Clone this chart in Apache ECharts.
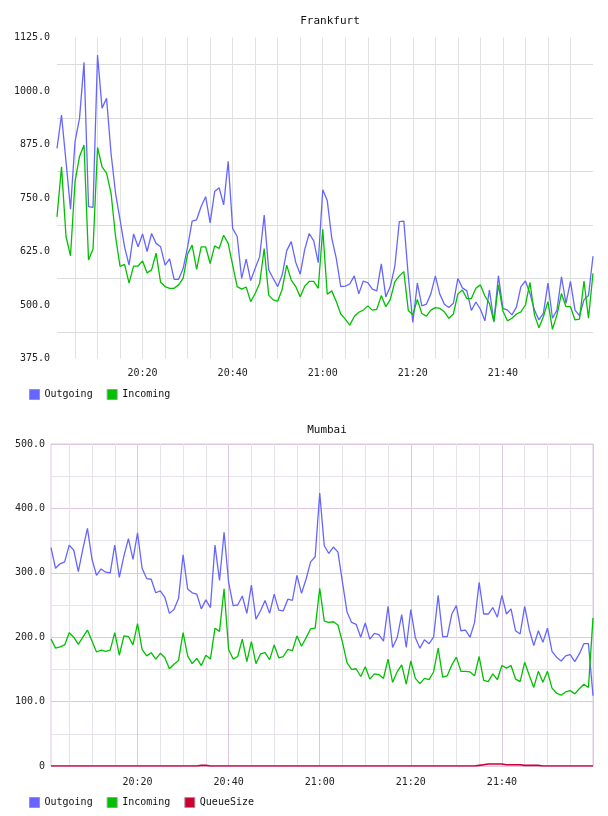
<!DOCTYPE html>
<html>
<head>
<meta charset="utf-8">
<title>Frankfurt / Mumbai</title>
<script src="https://cdn.jsdelivr.net/npm/echarts@6/dist/echarts.min.js"></script>
<style>
  html, body { margin: 0; padding: 0; background: #fff; }
  #chart { width: 608px; height: 816px; }
</style>
</head>
<body>
<div id="chart"></div>
<script>
// 两个面板：Frankfurt / Mumbai，1 分钟一个点，20:01 ~ 22:00

// x 轴刻度标签
const timeLabels = ['20:20', '20:40', '21:00', '21:20', '21:40'];

// y 轴刻度
const fraTicks = [375, 500, 625, 750, 875, 1000, 1125];
const mumTicks = [0, 100, 200, 300, 400, 500];

// Frankfurt
const fraOutgoing = [
  866, 944, 835, 724, 882, 936, 1067, 730, 728, 1084,
  960, 983, 854, 761, 699, 636, 593, 666, 636, 666,
  625, 667, 644, 636, 593, 608, 560, 560, 585, 636,
  696, 699, 730, 753, 692, 765, 774, 734, 836, 679,
  660, 562, 607, 557, 586, 613, 710, 582, 562, 543,
  570, 627, 648, 600, 572, 630, 667, 650, 599, 769,
  744, 656, 609, 543, 544, 549, 568, 526, 556, 552,
  537, 533, 596, 519, 543, 590, 695, 696, 566, 459,
  551, 498, 502, 526, 568, 525, 502, 494, 504, 562,
  540, 533, 487, 507, 490, 463, 535, 461, 568, 492,
  488, 477, 495, 543, 556, 527, 488, 465, 481, 551,
  469, 488, 566, 504, 555, 488, 475, 512, 522, 614
];
const fraIncoming = [
  706, 823, 660, 615, 788, 847, 874, 605, 631, 868,
  823, 808, 761, 660, 590, 595, 551, 591, 591, 603,
  575, 582, 621, 553, 543, 539, 539, 547, 562, 619,
  640, 583, 636, 636, 597, 638, 632, 663, 644, 593,
  543, 537, 542, 508, 527, 551, 632, 523, 512, 509,
  537, 593, 558, 543, 519, 544, 555, 555, 539, 677,
  525, 533, 508, 479, 467, 453, 473, 483, 488, 498,
  488, 490, 522, 496, 513, 554, 568, 578, 487, 477,
  513, 480, 474, 488, 494, 492, 484, 469, 479, 526,
  535, 515, 515, 539, 547, 521, 504, 461, 547, 486,
  463, 469, 479, 484, 500, 553, 477, 447, 473, 508,
  443, 477, 527, 496, 496, 465, 467, 556, 469, 574
];

// Mumbai
const mumOutgoing = [
  339, 307, 314, 317, 343, 335, 302, 337, 369, 321,
  296, 306, 301, 300, 343, 293, 326, 353, 321, 362,
  307, 291, 290, 269, 272, 262, 237, 243, 260, 328,
  275, 269, 267, 244, 258, 246, 343, 288, 363, 285,
  249, 250, 264, 237, 281, 228, 241, 257, 237, 267,
  242, 241, 259, 257, 296, 268, 290, 317, 325, 424,
  342, 330, 340, 332, 285, 239, 223, 220, 200, 222,
  197, 206, 204, 194, 248, 184, 199, 235, 184, 243,
  199, 183, 196, 190, 200, 265, 201, 201, 236, 249,
  210, 211, 200, 223, 285, 236, 236, 246, 231, 265,
  236, 244, 210, 205, 248, 212, 187, 210, 192, 214,
  178, 169, 163, 171, 173, 162, 174, 190, 190, 109
];
const mumIncoming = [
  197, 183, 185, 188, 207, 200, 189, 200, 211, 194,
  177, 180, 178, 180, 207, 172, 202, 201, 188, 221,
  181, 171, 176, 166, 175, 168, 151, 158, 164, 207,
  171, 159, 167, 156, 172, 166, 214, 209, 275, 181,
  166, 170, 197, 162, 193, 159, 174, 176, 165, 188,
  168, 170, 181, 179, 202, 186, 199, 213, 214, 276,
  225, 223, 224, 219, 192, 160, 150, 151, 139, 154,
  135, 143, 142, 136, 166, 130, 146, 157, 127, 163,
  136, 128, 136, 134, 146, 183, 138, 140, 157, 169,
  147, 147, 146, 140, 170, 133, 131, 143, 134, 156,
  152, 156, 135, 131, 161, 141, 122, 147, 130, 147,
  121, 113, 110, 115, 117, 112, 120, 127, 122, 230
];
const mumQueue = [
  0, 0, 0, 0, 0, 0, 0, 0, 0, 0,
  0, 0, 0, 0, 0, 0, 0, 0, 0, 0,
  0, 0, 0, 0, 0, 0, 0, 0, 0, 0,
  0, 0, 0, 1, 1, 0, 0, 0, 0, 0,
  0, 0, 0, 0, 0, 0, 0, 0, 0, 0,
  0, 0, 0, 0, 0, 0, 0, 0, 0, 0,
  0, 0, 0, 0, 0, 0, 0, 0, 0, 0,
  0, 0, 0, 0, 0, 0, 0, 0, 0, 0,
  0, 0, 0, 0, 0, 0, 0, 0, 0, 0,
  0, 0, 0, 0, 1, 2, 3, 3, 3, 3,
  2, 2, 2, 2, 1, 1, 1, 1, 0, 0,
  0, 0, 0, 0, 0, 0, 0, 0, 0, 0
];

// 分钟类目 20:01 .. 22:00
const minutes = [];
for (let m = 20 * 60 + 1; m <= 22 * 60; m++) {
  const h = Math.floor(m / 60), mm = m % 60;
  minutes.push(h + ':' + (mm < 10 ? '0' + mm : mm));
}

const MONO = '"DejaVu Sans Mono", monospace';
const BLUE = '#6666ff';
const GREEN = '#00c000';
const RED = '#cc0033';
const GRAY = '#e2e2e2';
const PURPLE = '#dcc6e0';
const PURPLE_MINOR = '#e8e2ea';

function lineSeries(name, data, color, idx, width) {
  return {
    name: name,
    type: 'line',
    xAxisIndex: idx,
    yAxisIndex: idx,
    data: data,
    color: color,
    showSymbol: false,
    symbol: 'none',
    lineStyle: { color: color, width: width || 1.3 },
    emphasis: { disabled: true },
    silent: true
  };
}

const chart = echarts.init(document.getElementById('chart'), null, { renderer: 'canvas' });

const option = {
  animation: false,
  backgroundColor: '#fff',
  title: [
    { text: 'Frankfurt', left: 325, top: 11, textAlign: 'center',
      textStyle: { fontFamily: MONO, fontSize: 11, fontWeight: 'normal', color: '#111' } },
    { text: 'Mumbai', left: 322, top: 420, textAlign: 'center',
      textStyle: { fontFamily: MONO, fontSize: 11, fontWeight: 'normal', color: '#111' } }
  ],
  legend: [
    { data: ['Outgoing', 'Incoming'], left: 24, top: 384, itemWidth: 10, itemHeight: 10,
      itemGap: 14, icon: 'rect', selectedMode: false,
      itemStyle: { borderColor: '#999', borderWidth: 1 },
      textStyle: { fontFamily: MONO, fontSize: 10, color: '#111' } },
    { data: ['Outgoing', 'Incoming', 'QueueSize'], left: 24, top: 792, itemWidth: 10, itemHeight: 10,
      itemGap: 14, icon: 'rect', selectedMode: false,
      itemStyle: { borderColor: '#999', borderWidth: 1 },
      textStyle: { fontFamily: MONO, fontSize: 10, color: '#111' } }
  ],
  grid: [
    { left: 57, right: 15, top: 37.5, height: 321 },
    { left: 51, right: 15, top: 444, height: 322, show: true,
      borderColor: PURPLE, borderWidth: 1, backgroundColor: 'transparent' }
  ],
  xAxis: [
    {
      type: 'category', gridIndex: 0, data: minutes, boundaryGap: false,
      axisLine: { show: false }, axisTick: { show: false },
      axisLabel: {
        interval: (i, v) => timeLabels.indexOf(v) >= 0,
        margin: 10, fontFamily: MONO, fontSize: 10, color: '#222'
      },
      splitLine: {
        show: true,
        interval: (i) => i % 5 === 4 && i < minutes.length - 1,
        lineStyle: { color: GRAY, width: 1 }
      }
    },
    {
      type: 'category', gridIndex: 1, data: minutes, boundaryGap: false,
      axisLine: { show: false }, axisTick: { show: false },
      axisLabel: {
        interval: (i, v) => timeLabels.indexOf(v) >= 0,
        margin: 11, fontFamily: MONO, fontSize: 10, color: '#222'
      },
      splitLine: {
        show: true,
        interval: (i) => i % 5 === 4,
        lineStyle: { color: [PURPLE_MINOR, PURPLE_MINOR, PURPLE_MINOR, PURPLE], width: 1 }
      }
    }
  ],
  yAxis: [
    {
      type: 'value', gridIndex: 0,
      min: fraTicks[0], max: fraTicks[fraTicks.length - 1], interval: 62.5,
      axisLine: { show: false }, axisTick: { show: false },
      axisLabel: {
        margin: 7, fontFamily: MONO, fontSize: 10, color: '#222',
        formatter: (v) => fraTicks.indexOf(v) >= 0 ? v.toFixed(1) : ''
      },
      splitLine: { show: true, lineStyle: { color: ['rgba(0,0,0,0)', '#dcdcdc'], width: 1 } }
    },
    {
      type: 'value', gridIndex: 1,
      min: mumTicks[0], max: mumTicks[mumTicks.length - 1], interval: 50,
      axisLine: { show: false }, axisTick: { show: false },
      axisLabel: {
        margin: 6, fontFamily: MONO, fontSize: 10, color: '#222',
        formatter: (v) => mumTicks.indexOf(v) < 0 ? '' : (v === 0 ? '0' : v.toFixed(1))
      },
      splitLine: { show: true, lineStyle: { color: [PURPLE, PURPLE_MINOR], width: 1 } }
    }
  ],
  series: [
    lineSeries('Outgoing', fraOutgoing, BLUE, 0),
    lineSeries('Incoming', fraIncoming, GREEN, 0),
    lineSeries('Outgoing', mumOutgoing, BLUE, 1),
    lineSeries('Incoming', mumIncoming, GREEN, 1),
    lineSeries('QueueSize', mumQueue, RED, 1, 1.6)
  ]
};

chart.setOption(option);
</script>
</body>
</html>
